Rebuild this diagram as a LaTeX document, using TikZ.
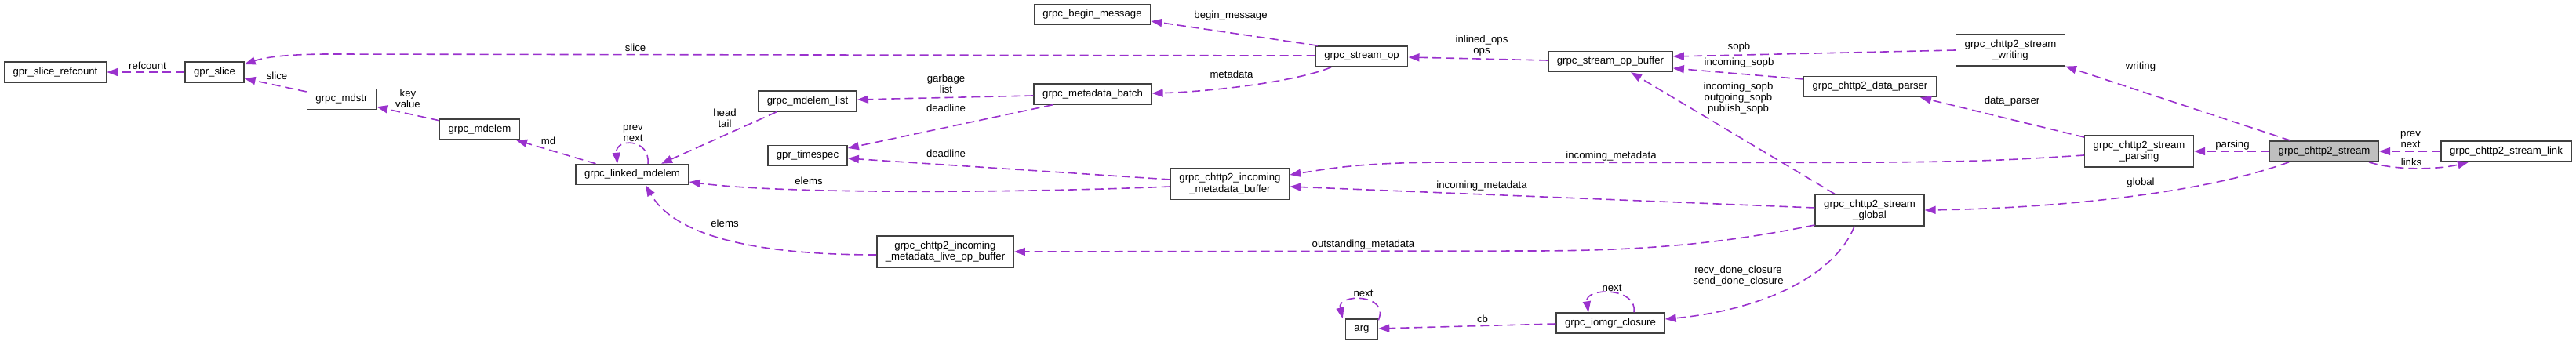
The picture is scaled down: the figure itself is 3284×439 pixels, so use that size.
\documentclass[tikz,border=0pt]{standalone}
\usepackage{fontspec}
\setmainfont{Liberation Sans}
\usetikzlibrary{arrows.meta}
\definecolor{linkc}{RGB}{154,50,205}
\definecolor{boxc}{RGB}{64,64,64}
\tikzset{
  cls/.style={draw=boxc,line width=1.5pt,fill=white,inner xsep=11pt,inner ysep=6.5pt,
    minimum height=26pt,align=center,font=\fontsize{13.2}{14.5}\selectfont},
  cur/.style={cls,fill=black!25},
  link/.style={draw=linkc,line width=1.6pt,dash pattern=on 11pt off 6pt,
    -{Triangle[length=14pt,width=10pt,fill=linkc]}},
  lbl/.style={inner sep=0pt,align=center,font=\fontsize{13.2}{14}\selectfont}
}

\begin{document}
\begin{tikzpicture}[x=1pt,y=-1pt]
  \useasboundingbox (0,0) rectangle (3284,439);
  \node[cls] (refcnt) at (70.5,92) {gpr\_slice\_refcount};
  \node[cls] (gslice) at (273.5,92) {gpr\_slice};
  \node[cls] (mdstr) at (435.5,126.5) {grpc\_mdstr};
  \node[cls] (mdelem) at (611.5,165) {grpc\_mdelem};
  \node[cls] (lmdelem) at (806,222.5) {grpc\_linked\_mdelem};
  \node[cls] (mdlist) at (1029.5,129) {grpc\_mdelem\_list};
  \node[cls] (tspec) at (1029.5,198.5) {gpr\_timespec};
  \node[cls] (beginmsg) at (1392.5,18.5) {grpc\_begin\_message};
  \node[cls] (mdbatch) at (1393,120) {grpc\_metadata\_batch};
  \node[cls] (inbuf) at (1568,234.5) {grpc\_chttp2\_incoming\\\_metadata\_buffer};
  \node[cls] (liveop) at (1205,321) {grpc\_chttp2\_incoming\\\_metadata\_live\_op\_buffer};
  \node[cls] (sop) at (1736,72) {grpc\_stream\_op};
  \node[cls] (sopbuf) at (2053,78.5) {grpc\_stream\_op\_buffer};
  \node[cls] (dparser) at (2384,110.5) {grpc\_chttp2\_data\_parser};
  \node[cls] (sglobal) at (2383.5,268) {grpc\_chttp2\_stream\\\_global};
  \node[cls] (closure) at (2053,412) {grpc\_iomgr\_closure};
  \node[cls] (arg) at (1736,420) {arg};
  \node[cls] (swriting) at (2563,64) {grpc\_chttp2\_stream\\\_writing};
  \node[cls] (sparsing) at (2727,193) {grpc\_chttp2\_stream\\\_parsing};
  \node[cur] (stream) at (2963,193) {grpc\_chttp2\_stream};
  \node[cls] (slink) at (3195,193) {grpc\_chttp2\_stream\_link};

  \draw[link] (gslice) -- (refcnt);
  \node[lbl] at (188,84) {refcount};
  \draw[link] (mdstr) -- (gslice);
  \node[lbl] at (353,97) {slice};
  \draw[link] ([yshift=1pt]sop.west) -- (420,69) .. controls (360,69) and (335,74) .. ([yshift=10pt]gslice.east);
  \node[lbl] at (810,61) {slice};
  \draw[link] (mdelem) -- (mdstr);
  \node[lbl] at (520,126) {key\\value};
  \draw[link] (lmdelem) -- (mdelem);
  \node[lbl] at (699,180) {md};
  \draw[link] ([xshift=20pt]lmdelem.north) .. controls (829,176) and (784,176) .. ([xshift=-19pt]lmdelem.north);
  \node[lbl] at (807,170) {prev\\next};
  \draw[link] ([xshift=-39.5pt]mdlist.south) -- ([xshift=37pt]lmdelem.north);
  \node[lbl] at (924,151) {head\\tail};
  \draw[link] ([yshift=-2pt]mdbatch.west) -- ([yshift=2pt]mdlist.east);
  \node[lbl] at (1206,107) {garbage\\list};
  \draw[link] ([xshift=-51pt]mdbatch.south) -- ([yshift=9.5pt]tspec.east);
  \node[lbl] at (1206,138) {deadline};
  \draw[link] ([xshift=-39pt]sop.south) .. controls (1650,105) and (1540,117) .. ([yshift=1pt]mdbatch.east);
  \node[lbl] at (1570,95) {metadata};
  \draw[link] ([xshift=-56pt]sop.north) -- ([yshift=-8.5pt]beginmsg.east);
  \node[lbl] at (1569,20) {begin\_message};
  \draw[link] ([yshift=1.5pt]sopbuf.west) -- ([yshift=-1pt]sop.east);
  \node[lbl] at (1889,58) {inlined\_ops\\ops};
  \draw[link] ([yshift=5.5pt]inbuf.west) -- ([yshift=-3.5pt]tspec.east);
  \node[lbl] at (1206,196) {deadline};
  \draw[link] ([yshift=-3.5pt]inbuf.west) .. controls (1300,246) and (1000,248) .. ([yshift=-9.5pt]lmdelem.east);
  \node[lbl] at (1031,231) {elems};
  \draw[link] ([yshift=-4pt]liveop.west) .. controls (960,325) and (860,300) .. ([xshift=17pt]lmdelem.south);
  \node[lbl] at (924,285) {elems};
  \draw[link] (swriting.west) -- ([yshift=6.5pt]sopbuf.east);
  \node[lbl] at (2217,60) {sopb};
  \draw[link] ([yshift=9.5pt]dparser.west) -- ([yshift=-8.5pt]sopbuf.east);
  \node[lbl] at (2217,80) {incoming\_sopb};
  \draw[link] ([xshift=-44.5pt]sglobal.north) -- ([xshift=26pt]sopbuf.south);
  \node[lbl] at (2216,125) {incoming\_sopb\\outgoing\_sopb\\publish\_sopb};
  \draw[link] ([yshift=-5pt]sparsing.west) .. controls (2500,208) .. (1850,207) .. controls (1740,207) and (1700,214) .. ([yshift=11.5pt]inbuf.east);
  \node[lbl] at (2054,199) {incoming\_metadata};
  \draw[link] ([yshift=3pt]sglobal.west) -- ([yshift=-3.5pt]inbuf.east);
  \node[lbl] at (1889,237) {incoming\_metadata};
  \draw[link] ([yshift=-19pt]sglobal.west) .. controls (2200,310) and (2100,320) .. (1950,320) -- (liveop.east);
  \node[lbl] at (1738,312) {outstanding\_metadata};
  \draw[link] ([xshift=-19.5pt]sglobal.south) .. controls (2340,350) and (2250,395) .. ([yshift=5pt]closure.east);
  \node[lbl] at (2216,352) {recv\_done\_closure\\send\_done\_closure};
  \draw[link] ([xshift=30pt]closure.north) .. controls (2088,366) and (2020,366) .. ([xshift=-28pt]closure.north);
  \node[lbl] at (2055,367) {next};
  \draw[link] ([yshift=-1pt]closure.west) -- ([yshift=1pt]arg.east);
  \node[lbl] at (1890,407) {cb};
  \draw[link] ([yshift=-2pt]arg.north east) .. controls (1772,374) and (1704,374) .. ([xshift=-3pt]arg.north west);
  \node[lbl] at (1738,374) {next};
  \draw[link] ([yshift=18pt]sparsing.west) -- ([xshift=64pt]dparser.south);
  \node[lbl] at (2565,129) {data\_parser};
  \draw[link] ([xshift=-43pt]stream.north) -- (swriting.south east);
  \node[lbl] at (2729,85) {writing};
  \draw[link] (stream) -- (sparsing);
  \node[lbl] at (2846,185) {parsing};
  \draw[link] ([xshift=-45pt]stream.south) .. controls (2800,250) and (2600,266) .. (sglobal.east);
  \node[lbl] at (2729,233) {global};
  \draw[link] (slink) -- (stream);
  \node[lbl] at (3073,178) {prev\\next};
  \draw[link] ([xshift=57pt]stream.south) .. controls (3055,218) and (3110,216) .. ([xshift=-48pt]slink.south);
  \node[lbl] at (3074,207) {links};
\end{tikzpicture}
\end{document}
